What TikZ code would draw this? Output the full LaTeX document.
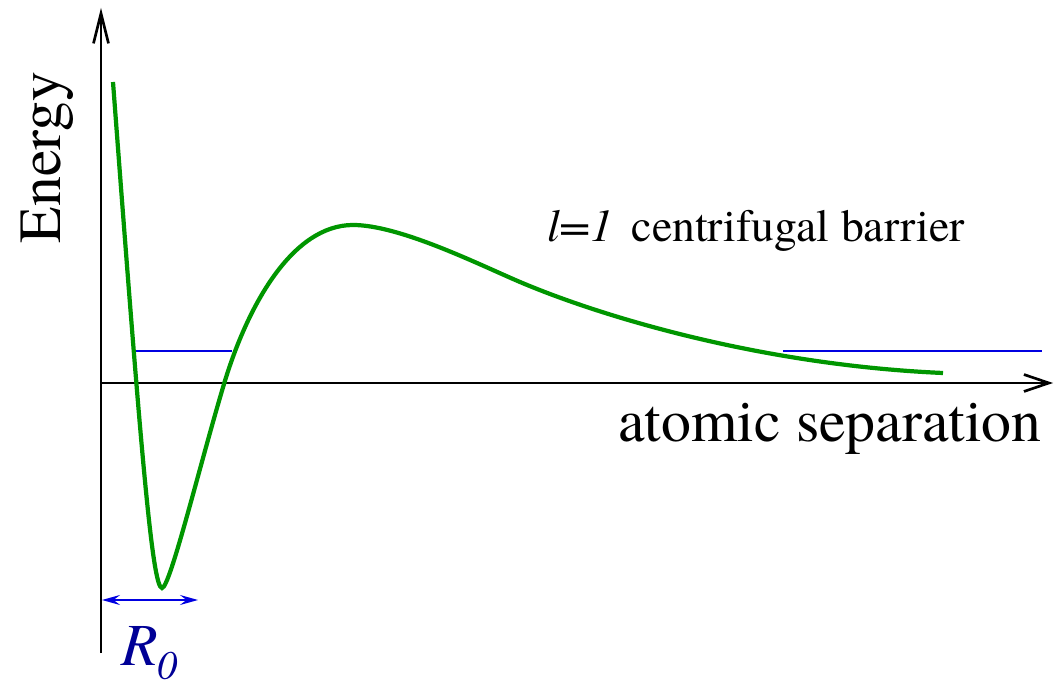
\documentclass[tikz,border=0pt]{standalone}
\usepackage{fontspec}
\setmainfont{TeX Gyre Termes}
\usepackage{xcolor}
\usetikzlibrary{arrows.meta}
\definecolor{potgreen}{RGB}{0,150,0}
\definecolor{lvlblue}{RGB}{0,0,225}
\definecolor{rnavy}{RGB}{0,0,150}

\begin{document}
\begin{tikzpicture}[x=0.2mm,y=-0.2mm,
  ax/.style={line width=1.5pt},
  pot/.style={potgreen,line width=2.4pt},
  lvl/.style={lvlblue,line width=0.95pt},
  lbl/.style={inner sep=0pt,font=\fontsize{34}{34}\selectfont}]
\useasboundingbox (0,0) rectangle (1055,687);
\coordinate (o) at (101,383);
\coordinate (ybot) at (101,653);
\coordinate (ytop) at (101,8);
\coordinate (xend) at (1053,383);
% axes
\draw[ax,-{Straight Barb[length=6mm,width=3mm]}] (ybot) -- (ytop);
\draw[ax,-{Straight Barb[length=5mm,width=3.4mm]}] (o) -- (xend);
\node[lbl,rotate=90,anchor=base] (en) at (60,157.5) {Energy};
\node[lbl,anchor=base] (sep) at (830,442) {atomic separation};
% levels
\draw[lvl] (133,351) -- (232,351);
\draw[lvl] (783,351) -- (1042,351);
% potential
\draw[pot] (113,82) .. controls (140,440) and (152,588) .. (162,588)
  .. controls (170,588) and (200,464) .. (224,384)
  .. controls (248,304) and (293,225) .. (353,225)
  .. controls (400,225) and (480,265) .. (520,282)
  .. controls (600,316) and (760,365) .. (943,373);
\node[inner sep=0pt,anchor=base,font=\fontsize{26}{26}\selectfont] (bar) at (756,242)
  {\textit{l=1}\hspace{.4em}centrifugal barrier};
% R0
\coordinate (r1) at (102,600);
\coordinate (r2) at (198,600);
\draw[lvl,line width=1.1pt,{Stealth[length=3.6mm,width=2mm,inset=1.3mm]}-{Stealth[length=3.6mm,width=2mm,inset=1.3mm]}] (r1) -- (r2);
\node[lbl,rnavy,anchor=base west,font=\fontsize{34}{34}\selectfont\itshape] (r0) at (121,665)
  {R\raisebox{-.25em}{\fontsize{23}{23}\selectfont 0}};
\end{tikzpicture}
\end{document}
